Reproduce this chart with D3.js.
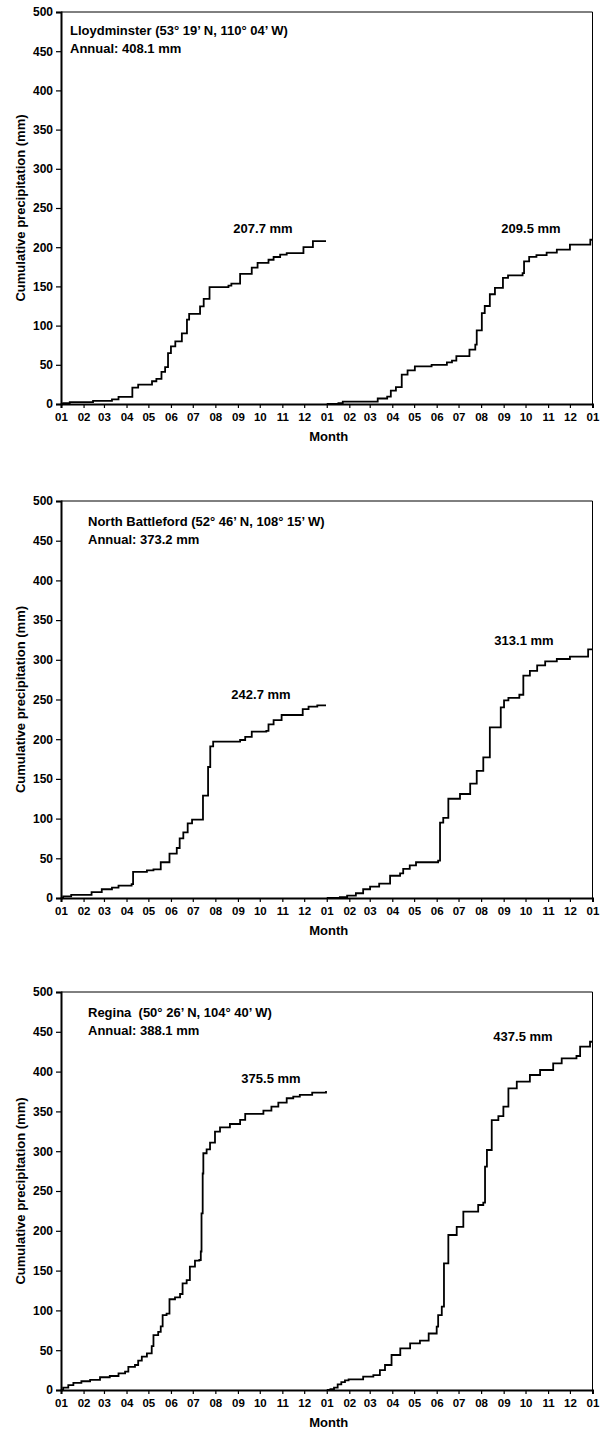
<!DOCTYPE html>
<html><head><meta charset="utf-8">
<script src="https://cdn.jsdelivr.net/npm/d3@7"></script>
<style>
body{margin:0;background:#fff}
svg text{font-family:"Liberation Sans",Arial,Helvetica,sans-serif;font-weight:bold;fill:#000}
</style>
</head><body>
<svg id="chart" width="602" height="1431"></svg>
<script>
// ---- data: [day of year, cumulative precipitation (mm)] ----
const stationTitles = ["Lloydminster (53° 19’ N, 110° 04’ W)", "North Battleford (52° 46’ N, 108° 15’ W)", "Regina  (50° 26’ N, 104° 40’ W)"];
const annualLabels = ["Annual: 408.1 mm", "Annual: 373.2 mm", "Annual: 388.1 mm"];
const totalsYear1 = ["207.7 mm", "242.7 mm", "375.5 mm"];
const totalsYear2 = ["209.5 mm", "313.1 mm", "437.5 mm"];
const yTicks = [0, 50, 100, 150, 200, 250, 300, 350, 400, 450, 500];

const lloydY1 = [[0,0],[3,1],[12,2.5],[44,4],[70,6],[79,9],[98,21],[106,24.6],[125,29],[131,32],[138,41],[143,47],[147,65],[151,73.5],[157,80],[166,90],[173,107.5],[176,115],[191,124.5],[196,134],[204,149],[230,151],[234,153.5],[246,166],[262,174],[270,180],[285,184],[292,187.5],[301,190.5],[310,192.5],[333,200],[346,207.7],[364,207.7]];
const lloydY2 = [[0,0],[16,1],[22,3],[70,7],[83,9.5],[88,17],[95,21.6],[103,37.4],[111,43],[121,48],[144,50],[165,53],[172,55.3],[178,61],[196,69.4],[204,75.8],[206,94],[213,116],[217,125],[224,140],[231,148],[242,161],[249,164],[269,167],[271,182],[278,187.7],[288,190],[302,193],[316,197],[334,203.4],[362,209.5],[365,209.5]];
const battY1 = [[0,0],[3,2],[14,4],[42,7.5],[56,11],[70,13],[79,15.5],[97,17.6],[99,33],[118,34.8],[127,36],[137,45],[149,56],[159,63],[163,75],[168,82.6],[174,94],[180,98.6],[195,129],[202,165],[205,191],[209,197],[246,199],[253,203],[262,209.5],[282,210.4],[285,218.7],[292,224],[303,230.5],[332,238],[340,241],[352,242.7],[364,242.7]];
const battY2 = [[0,0],[18,1],[28,3],[40,6],[50,11],[59.5,14.3],[72,18],[87,28],[100.7,31],[105,36.7],[114,41],[122.6,45],[153,47],[155.6,95],[160,101],[167,125],[183,131],[197,144],[206,160],[215,177],[224,215],[239,240],[243.5,249],[249.5,252],[264.5,256],[270,280],[279,286],[289,293],[300,298],[316,301],[334,304],[359,313.1],[365,313.1]];
const reginaY1 = [[0,0],[3,3],[10,6],[17,9],[28,11],[40,12.6],[53.6,16],[67,17.6],[79,21],[88,23],[92.5,29],[101.6,31.4],[106,37],[111,42],[118,46],[124.6,55],[127,69],[133.5,73],[137,80],[139.6,94],[145,96],[149,114],[156.6,116.4],[163.5,120.6],[167,134],[172.6,138],[177,155],[184,162.5],[190,163.3],[192,174],[193,222],[194.6,272],[195.5,297.4],[200,302.4],[204.7,310.8],[211.5,324.6],[218.4,330],[232,334.2],[246,339.3],[253,346.8],[278,351],[289,356],[298.5,361],[310,366.5],[319,368.6],[328,370.7],[345,373.5],[364,375.5]];
const reginaY2 = [[0,0],[5,1],[10,3],[15,7],[20,10],[25,12],[30,13.4],[50,16.8],[64,18.8],[73,25],[80,31.4],[89,44],[101,52.4],[114.5,58.6],[128,62],[140,71],[151,79.6],[153,94],[158,104.7],[161,159],[167,194.7],[178.5,205],[187.6,224],[208,232.4],[215,235.3],[217.4,280.6],[220,301.5],[226.6,339],[235.7,344],[242.6,356],[249.5,379],[261,387.4],[279,395.7],[293,402],[311,410.4],[322.7,416.7],[343,419.6],[348,431.3],[361.6,437.5],[365,437.5]];

const seriesYear1 = [lloydY1, battY1, reginaY1];
const seriesYear2 = [lloydY2, battY2, reginaY2];

// ---- layout ----
const panels = [
  {top: 12, bottom: 404, titleX: 70, titleY: 35, lab1: [263, 233], lab2: [531, 233]},
  {top: 501, bottom: 898, titleX: 88, titleY: 526, lab1: [261, 699], lab2: [524, 645]},
  {top: 992, bottom: 1390, titleX: 88, titleY: 1017, lab1: [271, 1083], lab2: [523, 1041]}
];
const xLeft = 61, xRight = 592.5;

const t0 = new Date(Date.UTC(2001, 0, 1));
const t1 = new Date(Date.UTC(2003, 0, 1));
const x = d3.scaleUtc().domain([t0, t1]).range([xLeft, xRight]);
const monthTicks = d3.utcMonth.range(t0, d3.utcDay.offset(t1, 1));

const svg = d3.select("#chart");

panels.forEach((p, i) => {
  const y = d3.scaleLinear().domain([0, 500]).range([p.bottom, p.top]);
  const g = svg.append("g");

  // frame
  g.append("line").attr("x1", xLeft).attr("x2", xRight).attr("y1", p.top).attr("y2", p.top).attr("stroke", "#000").attr("stroke-width", 1);
  g.append("line").attr("x1", xRight).attr("x2", xRight).attr("y1", p.top).attr("y2", p.bottom).attr("stroke", "#000").attr("stroke-width", 1);

  // y axis
  const ya = g.append("g").attr("transform", `translate(${xLeft},0)`)
    .call(d3.axisLeft(y).tickValues(yTicks).tickSize(5).tickPadding(3).tickFormat(d3.format("d")));
  ya.select(".domain").attr("stroke-width", 2);
  ya.selectAll(".tick line").attr("stroke-width", 1.2);
  ya.selectAll("text").style("font-size", "12px").attr("font-family", null);

  // x axis
  const xa = g.append("g").attr("transform", `translate(0,${p.bottom})`)
    .call(d3.axisBottom(x).tickValues(monthTicks).tickSize(4).tickPadding(5).tickFormat(d3.utcFormat("%m")));
  xa.select(".domain").attr("stroke-width", 2);
  xa.selectAll(".tick line").attr("stroke-width", 1.2);
  xa.selectAll("text").style("font-size", "11.5px").attr("font-family", null);

  // axis titles
  g.append("text").attr("transform", `translate(25,${(p.top + p.bottom) / 2}) rotate(-90)`)
    .attr("text-anchor", "middle").style("font-size", "13px").text("Cumulative precipitation (mm)");
  g.append("text").attr("x", (xLeft + xRight) / 2 + 2).attr("y", p.bottom + 37)
    .attr("text-anchor", "middle").style("font-size", "13px").text("Month");

  // station text
  g.append("text").attr("x", p.titleX).attr("y", p.titleY).style("font-size", "13px").style("white-space", "pre").text(stationTitles[i]);
  g.append("text").attr("x", p.titleX).attr("y", p.titleY + 18).style("font-size", "13px").text(annualLabels[i]);

  // lines
  const line1 = d3.line().curve(d3.curveStepAfter)
    .x(d => x(d3.utcDay.offset(t0, 0) .getTime() + d[0] * 864e5))
    .y(d => y(d[1]));
  const start2 = d3.utcYear.offset(t0, 1).getTime();
  const line2 = d3.line().curve(d3.curveStepAfter)
    .x(d => x(start2 + d[0] * 864e5))
    .y(d => y(d[1]));
  g.append("path").datum(seriesYear1[i]).attr("d", line1).attr("fill", "none").attr("stroke", "#000").attr("stroke-width", 1.8);
  g.append("path").datum(seriesYear2[i]).attr("d", line2).attr("fill", "none").attr("stroke", "#000").attr("stroke-width", 1.8);

  // totals
  g.append("text").attr("x", p.lab1[0]).attr("y", p.lab1[1]).attr("text-anchor", "middle").style("font-size", "13px").text(totalsYear1[i]);
  g.append("text").attr("x", p.lab2[0]).attr("y", p.lab2[1]).attr("text-anchor", "middle").style("font-size", "13px").text(totalsYear2[i]);
});
</script>
</body></html>
